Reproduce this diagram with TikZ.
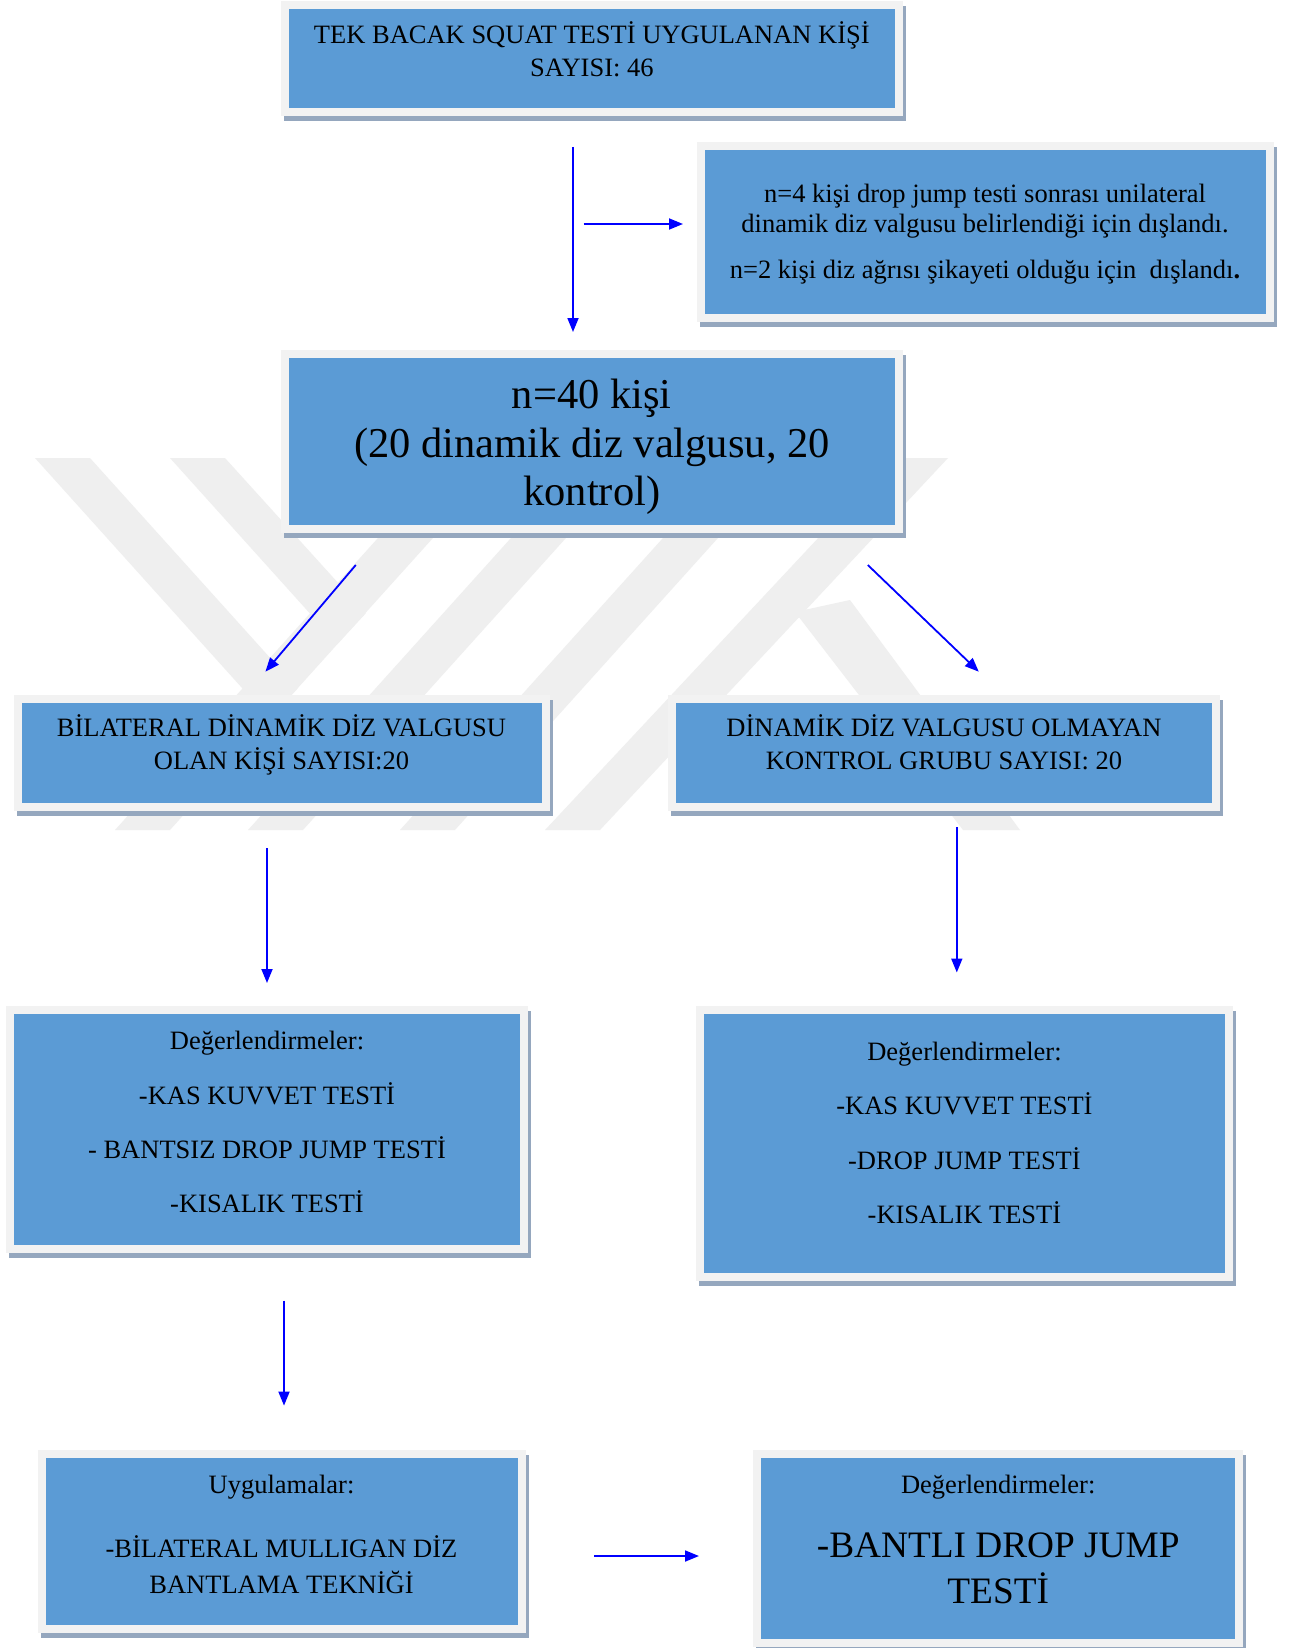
\documentclass[tikz,border=0pt]{standalone}
\usepackage{fontspec}
\setmainfont{Liberation Serif}
\usetikzlibrary{arrows.meta}
\definecolor{boxblue}{HTML}{5B9BD5}
\definecolor{framegray}{HTML}{F2F2F2}
\definecolor{shadowblue}{HTML}{95A7BE}
\definecolor{wmgray}{HTML}{EFEFEF}
\definecolor{arrowblue}{HTML}{0000FF}
\begin{document}
\begin{tikzpicture}[x=1pt,y=-1pt,
  panel/.style={rectangle, draw=framegray, line width=8pt, fill=boxblue, inner sep=0pt, outer sep=0pt,
    preaction={draw=shadowblue, fill=shadowblue, line width=8pt, transform canvas={shift={(3pt,-5pt)}}}},
  txts/.style={font=\fontsize{26.5}{30}\selectfont, anchor=base, inner sep=0pt},
  txtb/.style={font=\fontsize{42.5}{48}\selectfont, anchor=base, inner sep=0pt},
  txtm/.style={font=\fontsize{37.3}{44}\selectfont, anchor=base, inner sep=0pt},
  flow/.style={draw=arrowblue, line width=1.8pt, -{Triangle[length=14pt,width=11pt]}},
  wm/.style={fill=wmgray, draw=none}
]
\useasboundingbox (0,0) rectangle (1291,1648);
\fill[white] (0,0) rectangle (1291,1648);

% watermark
\fill[wm] (35,458) -- (90,458) -- (297.6,688.4) -- (269.4,718.4) -- cycle;
\fill[wm] (170,458) -- (225,458) -- (365.7,613.4) -- (337.4,644) -- cycle;
\fill[wm] (115,830) -- (170,830) -- (505,458) -- (450,458) -- cycle;
\fill[wm] (248,830) -- (303,830) -- (638,458) -- (583,458) -- cycle;
\fill[wm] (400,830) -- (455,830) -- (790,458) -- (735,458) -- cycle;
\fill[wm] (545,830) -- (600,830) -- (948,458) -- (893,458) -- cycle;
\fill[wm] (795,612) -- (850,600) -- (1020,830) -- (963,830) -- cycle;

% boxes
\node[panel, minimum width=613.3pt, minimum height=107.3pt] (b1) at (591.85,58.65) {};
\node[panel, minimum width=569.5pt, minimum height=172pt] (b2) at (985.25,232) {};
\node[panel, minimum width=613.3pt, minimum height=175.3pt] (b3) at (591.85,441.35) {};
\node[panel, minimum width=527.7pt, minimum height=108pt] (b4) at (281.95,752.7) {};
\node[panel, minimum width=543.2pt, minimum height=108.6pt] (b5) at (944,753) {};
\node[panel, minimum width=514.2pt, minimum height=239pt] (b6) at (266.9,1129.5) {};
\node[panel, minimum width=528.3pt, minimum height=266.4pt] (b7) at (964.45,1143.5) {};
\node[panel, minimum width=479.7pt, minimum height=174.7pt] (b8) at (281.75,1541.65) {};
\node[panel, minimum width=482.4pt, minimum height=189pt] (b9) at (998.2,1548.8) {};

% texts
\node[txts] (t1a) at (591.85,43.3) {TEK BACAK SQUAT TESTİ UYGULANAN KİŞİ};
\node[txts] (t1b) at (591.85,76.5) {SAYISI: 46};

\node[txts] (t2a) at (985,202.7) {n=4 kişi drop jump testi sonrası unilateral};
\node[txts] (t2b) at (985,232.2) {dinamik diz valgusu belirlendiği için dışlandı.};
\node[txts] (t2c) at (985,278) {n=2 kişi diz ağrısı şikayeti olduğu için\ \ dışlandı\textbf{.}};

\node[txtb] (t3a) at (591.85,408.3) {n=40 kişi};
\node[txtb] (t3b) at (591.85,457.2) {(20 dinamik diz valgusu, 20};
\node[txtb] (t3c) at (591.85,505.5) {kontrol)};

\node[txts] (t4a) at (281.5,736.5) {BİLATERAL DİNAMİK DİZ VALGUSU};
\node[txts] (t4b) at (281.5,769) {OLAN KİŞİ SAYISI:20};

\node[txts] (t5a) at (944,736.5) {DİNAMİK DİZ VALGUSU OLMAYAN};
\node[txts] (t5b) at (944,769.5) {KONTROL GRUBU SAYISI: 20};

\node[txts] (t6a) at (267,1049.3) {Değerlendirmeler:};
\node[txts] (t6b) at (267,1104) {-KAS KUVVET TESTİ};
\node[txts] (t6c) at (267,1158) {- BANTSIZ DROP JUMP TESTİ};
\node[txts] (t6d) at (267,1212.7) {-KISALIK TESTİ};

\node[txts] (t7a) at (964.45,1060.3) {Değerlendirmeler:};
\node[txts] (t7b) at (964.45,1114.5) {-KAS KUVVET TESTİ};
\node[txts] (t7c) at (964.45,1169.8) {-DROP JUMP TESTİ};
\node[txts] (t7d) at (964.45,1223.5) {-KISALIK TESTİ};

\node[txts] (t8a) at (281.5,1493.3) {Uygulamalar:};
\node[txts] (t8b) at (281.5,1557.5) {-BİLATERAL MULLIGAN DİZ};
\node[txts] (t8c) at (281.5,1593.5) {BANTLAMA TEKNİĞİ};

\node[txts] (t9a) at (998.2,1493.5) {Değerlendirmeler:};
\node[txtm] (t9b) at (998.2,1557.5) {-BANTLI DROP JUMP};
\node[txtm] (t9c) at (998.2,1603.3) {TESTİ};

% arrows
\coordinate (a1s) at (573,147);   \coordinate (a1e) at (573,332);
\coordinate (a2s) at (583.5,224); \coordinate (a2e) at (683,224);
\coordinate (a3s) at (355.8,565); \coordinate (a3e) at (265.4,671.7);
\coordinate (a4s) at (867.8,565); \coordinate (a4e) at (978.8,671.7);
\coordinate (a5s) at (267,848);   \coordinate (a5e) at (267,983);
\coordinate (a6s) at (956.8,827); \coordinate (a6e) at (956.8,972.5);
\coordinate (a7s) at (284,1300.5); \coordinate (a7e) at (284,1405.6);
\coordinate (a8s) at (594,1556);  \coordinate (a8e) at (699,1556);
\draw[flow] (a1s) -- (a1e);
\draw[flow] (a2s) -- (a2e);
\draw[flow] (a3s) -- (a3e);
\draw[flow] (a4s) -- (a4e);
\draw[flow] (a5s) -- (a5e);
\draw[flow] (a6s) -- (a6e);
\draw[flow] (a7s) -- (a7e);
\draw[flow] (a8s) -- (a8e);
\end{tikzpicture}
\end{document}
